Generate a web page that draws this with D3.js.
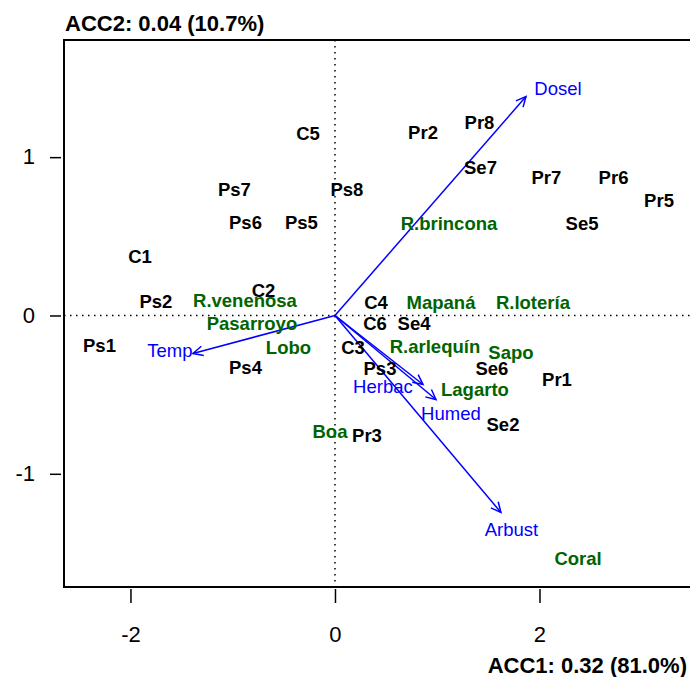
<!DOCTYPE html>
<html>
<head>
<meta charset="utf-8">
<script src="https://cdn.jsdelivr.net/npm/d3@7"></script>
<style>
  html, body { margin: 0; padding: 0; background: #fff; }
  svg { display: block; font-family: "Liberation Sans", Arial, sans-serif; }
</style>
</head>
<body>
<svg id="chart" width="690" height="677"></svg>
<script>
// Sampling sites (ACC1, ACC2 scores)
const siteNames = ["Pr8","Pr2","C5","Se7","Pr7","Pr6","Pr5","Ps7","Ps8","Ps6","Ps5","Se5",
  "C1","C2","Ps2","C4","C6","Se4","Ps1","C3","Ps3","Ps4","Se6","Pr1","Se2","Pr3"];
const siteX = [1.413,0.861,-0.264,1.423,2.068,2.724,3.169,-0.983,0.117,-0.875,-0.328,2.416,
  -1.907,-0.699,-1.751,0.401,0.391,0.773,-2.303,0.176,0.440,-0.875,1.535,2.171,1.643,0.313];
const siteY = [1.221,1.158,1.150,0.933,0.872,0.872,0.726,0.796,0.796,0.589,0.589,0.583,
  0.373,0.158,0.090,0.084,-0.049,-0.051,-0.190,-0.200,-0.335,-0.327,-0.333,-0.404,-0.689,-0.758];

// Species scores
const speciesNames = ["R.brincona","R.venenosa","Mapaná","R.lotería","Pasarroyo","Lobo",
  "R.arlequín","Sapo","Lagarto","Boa","Coral"];
const speciesX = [1.115,-0.880,1.037,1.936,-0.812,-0.455,0.978,1.721,1.369,-0.049,2.377];
const speciesY = [0.583,0.095,0.082,0.082,-0.049,-0.202,-0.196,-0.232,-0.467,-0.731,-1.535];

// Environmental variables: arrow tips and label positions
const envNames = ["Dosel","Temp","Herbac","Humed","Arbust"];
const envX = [1.868,-1.389,0.861,0.988,1.623];
const envY = [1.383,-0.240,-0.436,-0.531,-1.244];
const envLabelX = [2.181,-1.614,0.469,1.134,1.726];
const envLabelY = [1.434,-0.221,-0.447,-0.619,-1.352];

const xTicks = [-2, 0, 2];
const yTicks = [-1, 0, 1];
const xTitle = "ACC1: 0.32 (81.0%)";
const yTitle = "ACC2: 0.04 (10.7%)";

const svg = d3.select("#chart");
const plotLeft = 64, plotTop = 40, plotRight = 721.5, plotBottom = 587;

const x = d3.scaleLinear().domain([-2.65, 3.78]).range([plotLeft, plotRight]);
const y = d3.scaleLinear().domain([-1.715, 1.74]).range([plotBottom, plotTop]);

// Tick labels use a plain hyphen for negatives
const tickFmt = d => String(d);

// Reference lines through the origin
svg.append("line")
  .attr("x1", plotLeft).attr("x2", plotRight)
  .attr("y1", y(0)).attr("y2", y(0))
  .attr("stroke", "#000").attr("stroke-width", 1.5)
  .attr("stroke-dasharray", "1.5,4.5");
svg.append("line")
  .attr("x1", x(0)).attr("x2", x(0))
  .attr("y1", plotTop).attr("y2", plotBottom)
  .attr("stroke", "#000").attr("stroke-width", 1.5)
  .attr("stroke-dasharray", "1.5,4.5");

// Plot frame
svg.append("rect")
  .attr("x", plotLeft).attr("y", plotTop)
  .attr("width", plotRight - plotLeft).attr("height", plotBottom - plotTop)
  .attr("fill", "none").attr("stroke", "#000").attr("stroke-width", 2);

// Axes
const xAxis = svg.append("g")
  .attr("transform", `translate(0,${plotBottom + 2})`)
  .call(d3.axisBottom(x).tickValues(xTicks).tickSize(14).tickPadding(23).tickFormat(tickFmt));
const yAxis = svg.append("g")
  .attr("transform", `translate(${plotLeft - 3},0)`)
  .call(d3.axisLeft(y).tickValues(yTicks).tickSize(11).tickPadding(15).tickFormat(tickFmt));
[xAxis, yAxis].forEach(g => {
  g.select(".domain").remove();
  g.selectAll(".tick line").attr("stroke", "#000").attr("stroke-width", 1.5);
  g.selectAll(".tick text").attr("fill", "#000")
    .style("font-family", "'Liberation Sans', Arial, sans-serif")
    .style("font-size", "22px");
});
yAxis.selectAll(".tick text").attr("dy", "0.3em");

// Environmental arrows
const arrows = svg.append("g").attr("stroke", "#0000FF").attr("stroke-width", 1.5).attr("fill", "none");
envNames.forEach((name, i) => {
  const x0 = x(0), y0 = y(0), x1 = x(envX[i]), y1 = y(envY[i]);
  arrows.append("line").attr("x1", x0).attr("y1", y0).attr("x2", x1).attr("y2", y1);
  const ang = Math.atan2(y1 - y0, x1 - x0), len = 11, spread = Math.PI / 7;
  const p = [
    [x1 - len * Math.cos(ang - spread), y1 - len * Math.sin(ang - spread)],
    [x1, y1],
    [x1 - len * Math.cos(ang + spread), y1 - len * Math.sin(ang + spread)]
  ];
  arrows.append("path").attr("d", d3.line()(p));
});

// Labels
function labels(names, xs, ys, color, weight) {
  svg.append("g").selectAll("text").data(names).join("text")
    .attr("x", (d, i) => x(xs[i]))
    .attr("y", (d, i) => y(ys[i]))
    .attr("text-anchor", "middle")
    .attr("dominant-baseline", "central")
    .attr("fill", color)
    .style("font-size", "18.5px")
    .style("font-weight", weight)
    .text(d => d);
}
labels(envNames, envLabelX, envLabelY, "#0000FF", "normal");
labels(siteNames, siteX, siteY, "#000000", "bold");
labels(speciesNames, speciesX, speciesY, "#006400", "bold");

// Axis titles
svg.append("text")
  .attr("x", 65).attr("y", 31)
  .attr("fill", "#000")
  .style("font-size", "22px").style("font-weight", "bold")
  .text(yTitle);
svg.append("text")
  .attr("x", 687).attr("y", 673)
  .attr("text-anchor", "end")
  .attr("fill", "#000")
  .style("font-size", "22px").style("font-weight", "bold")
  .text(xTitle);
</script>
</body>
</html>
